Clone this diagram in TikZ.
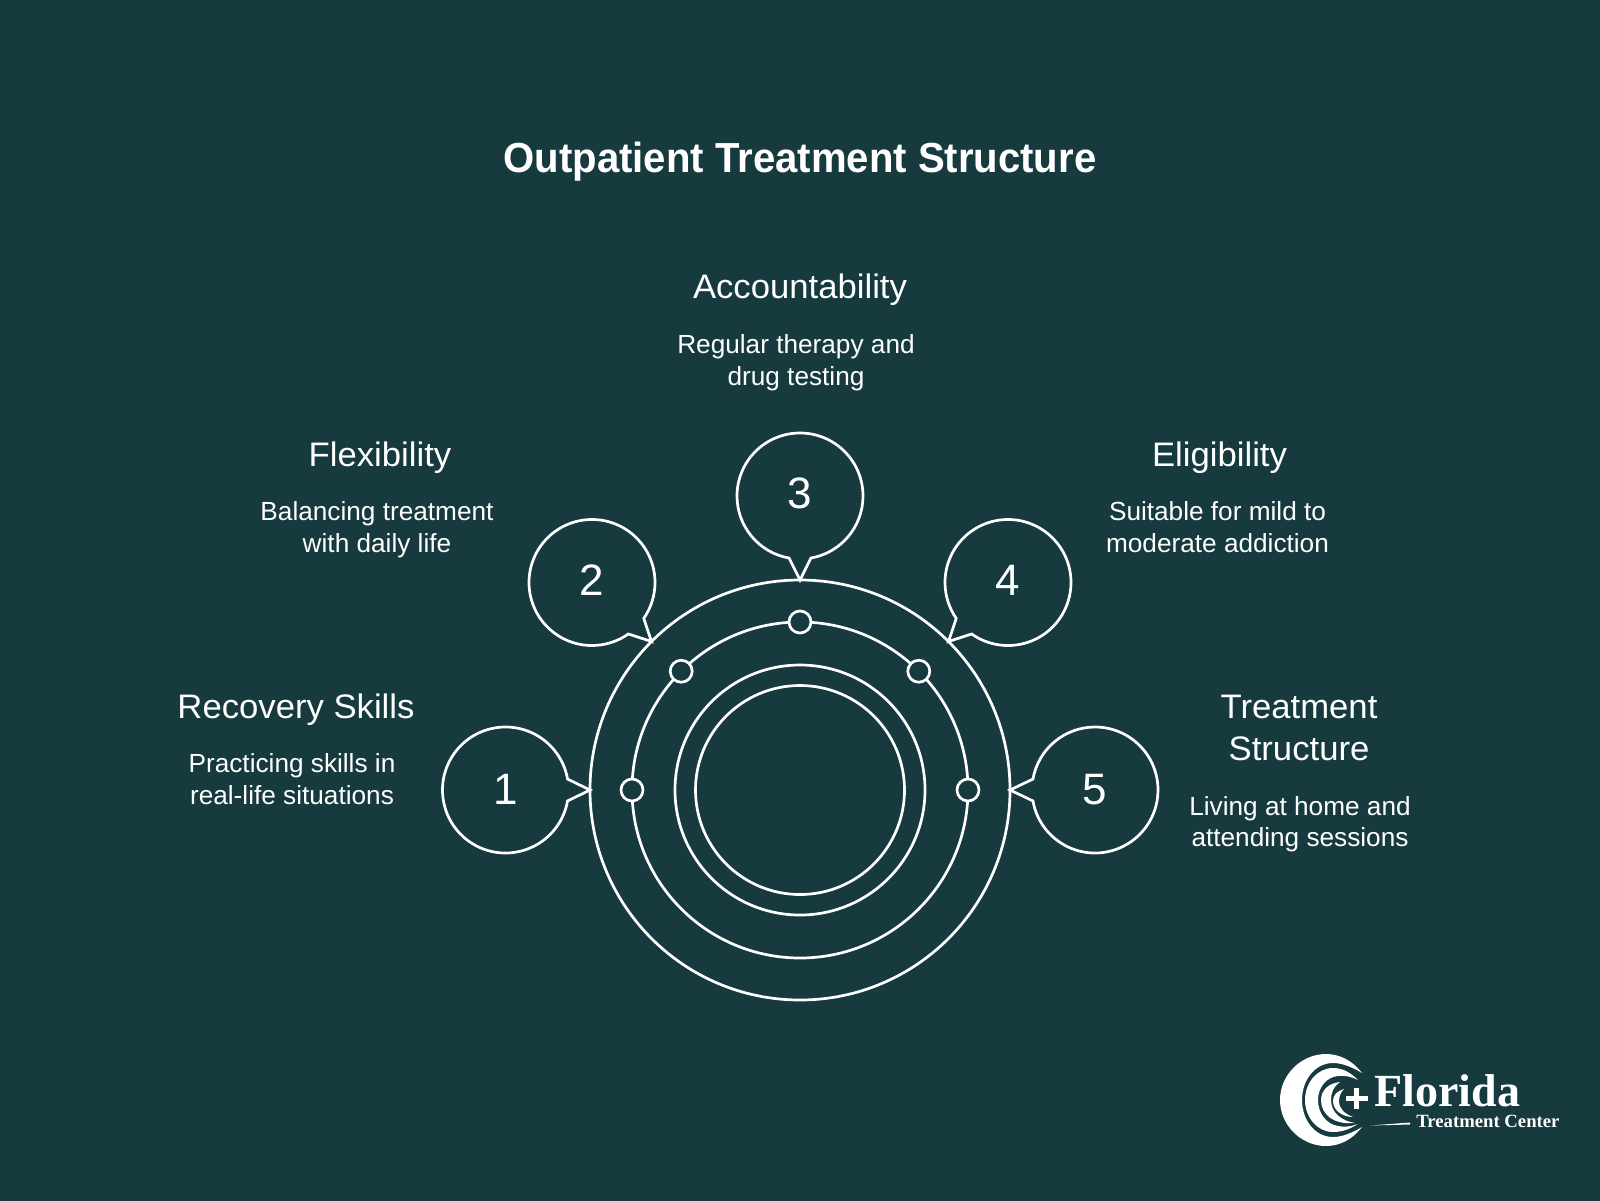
\documentclass[tikz,border=0pt]{standalone}
\usepackage{fontspec}
\setmainfont{Liberation Sans}
\newfontfamily\titlefont[FakeStretch=0.955]{Liberation Sans}
\newfontfamily\headfont[FakeStretch=1.02]{Liberation Sans}
\newfontfamily\logofont{Liberation Serif}
\usetikzlibrary{positioning,shapes.callouts}
\definecolor{bgteal}{HTML}{163A3E}

\begin{document}
\begin{tikzpicture}[x=1pt,y=-1pt,line width=2.7pt,white,node distance=10pt,
        ring/.style={draw,circle,inner sep=0pt,outer sep=0pt},
        bubble/.style={draw,ellipse callout,callout pointer arc=20,minimum width=126pt,minimum height=126pt,inner sep=0pt,font=\fontsize{44}{44}\selectfont},
        ringdot/.style={draw,circle,fill=bgteal,inner sep=0pt,minimum size=22pt},
        head/.style={align=center,inner sep=0pt,font=\headfont\fontsize{34}{41.5}\selectfont},
        desc/.style={align=center,inner sep=0pt,font=\fontsize{26.2}{31.5}\selectfont}]
        \useasboundingbox (0,0) rectangle (1600,1200);
        \fill[bgteal] (-4,-4) rectangle (1604,1204);
        \node[font=\titlefont\bfseries\fontsize{42}{42}\selectfont,inner sep=0pt] (title) at (800,162) {Outpatient Treatment Structure};
        % rings
        \node[ring,minimum size=420pt] (outer) at (800,790) {};
        \node[ring,minimum size=336pt] (track) at (800,790) {};
        \node[ring,minimum size=250pt] (band) at (800,790) {};
        \node[ring,minimum size=209pt] (core) at (800,790) {};
        \node[ringdot] (dot1) at (track.180) {};
        \node[ringdot] (dot2) at (track.135) {};
        \node[ringdot] (dot3) at (track.90) {};
        \node[ringdot] (dot4) at (track.45) {};
        \node[ringdot] (dot5) at (track.0) {};
        % numbered bubbles
        \node[bubble,callout absolute pointer={(outer.180)}] (skills) at (505.5,790) {\raisebox{1pt}{1}};
        \node[bubble,callout absolute pointer={(outer.135)}] (flex) at (592,582.5) {\raisebox{4pt}{2}};
        \node[bubble,callout absolute pointer={(outer.90)}] (account) at (800,496) {\raisebox{6pt}{3}};
        \node[bubble,callout absolute pointer={(outer.45)}] (elig) at (1008,582.5) {\raisebox{4pt}{4}};
        \node[bubble,callout absolute pointer={(outer.0)}] (struct) at (1095,790) {\raisebox{1pt}{5}};
        % labels
        \node[head] (accounthead) at (800,290) {Accountability};
        \node[desc,below=26pt of accounthead.south,xshift=-4pt] (accountdesc) {Regular therapy and\\drug testing};
        \node[head] (flexhead) at (380,458) {Flexibility};
        \node[desc,below=25pt of flexhead.south,xshift=-3pt] (flexdesc) {Balancing treatment\\with daily life};
        \node[head] (elighead) at (1219.5,458) {Eligibility};
        \node[desc,below=25pt of elighead.south,xshift=-2pt] (eligdesc) {Suitable for mild to\\moderate addiction};
        \node[head] (skillshead) at (296,710) {Recovery Skills};
        \node[desc,below=25pt of skillshead.south,xshift=-4pt] (skillsdesc) {Practicing skills in\\real-life situations};
        \node[head] (structhead) at (1299,728) {Treatment\\Structure};
        \node[desc,below=33pt of structhead.south,xshift=1pt] (structdesc) {Living at home and\\attending sessions};
        % logo
        \fill (1362,1073) .. controls (1353,1061) and (1340,1054) .. (1326,1054) .. controls (1301,1054) and (1280,1075) .. (1280,1100) .. controls (1280,1125) and (1301,1146) .. (1326,1146) .. controls (1340,1146) and (1353,1139) .. (1362,1127) .. controls (1352,1133) and (1342,1137) .. (1333,1137) .. controls (1315,1137) and (1302,1120) .. (1302,1100) .. controls (1302,1080) and (1315,1063) .. (1333,1063) .. controls (1342,1063) and (1352,1067) .. (1362,1073) -- cycle;
        \fill (1358,1080) .. controls (1350,1072) and (1342,1068) .. (1333,1068) .. controls (1317,1068) and (1305,1083) .. (1305,1100) .. controls (1305,1117) and (1317,1132) .. (1333,1132) .. controls (1342,1132) and (1350,1129) .. (1358,1124) .. controls (1350,1127) and (1343,1127) .. (1338,1126) .. controls (1326,1124) and (1318,1113) .. (1318,1100) .. controls (1318,1088) and (1326,1077) .. (1338,1076) .. controls (1345,1075) and (1352,1077) .. (1358,1080) -- cycle;
        \fill (1340,1082) .. controls (1329,1083) and (1321,1090) .. (1321,1100) .. controls (1321,1114) and (1333,1125) .. (1355,1123) .. controls (1342,1121) and (1331,1113) .. (1331,1100) .. controls (1331,1092) and (1334,1086) .. (1340,1082) -- cycle;
        \fill (1344,1089) .. controls (1337,1091) and (1333,1095) .. (1333,1101) .. controls (1333,1110) and (1342,1117) .. (1353,1117) .. controls (1345,1114) and (1339,1109) .. (1339,1101) .. controls (1339,1096) and (1341,1092) .. (1344,1089) -- cycle;
        \fill (1346,1096) rectangle (1367.5,1101);
        \fill (1354.2,1087.5) rectangle (1359.2,1109);
        \fill (1370,1125.5) -- (1410,1122.5) -- (1410,1124.5) -- cycle;
        \node[inner sep=0pt,anchor=base west,font=\logofont\bfseries\fontsize{46}{46}\selectfont] (logoname) at (1373,1106) {Florida};
        \node[inner sep=0pt,anchor=base west,font=\logofont\bfseries\fontsize{18.7}{18.7}\selectfont] (logosub) at (1415,1127) {Treatment Center};
    \end{tikzpicture}
\end{document}
